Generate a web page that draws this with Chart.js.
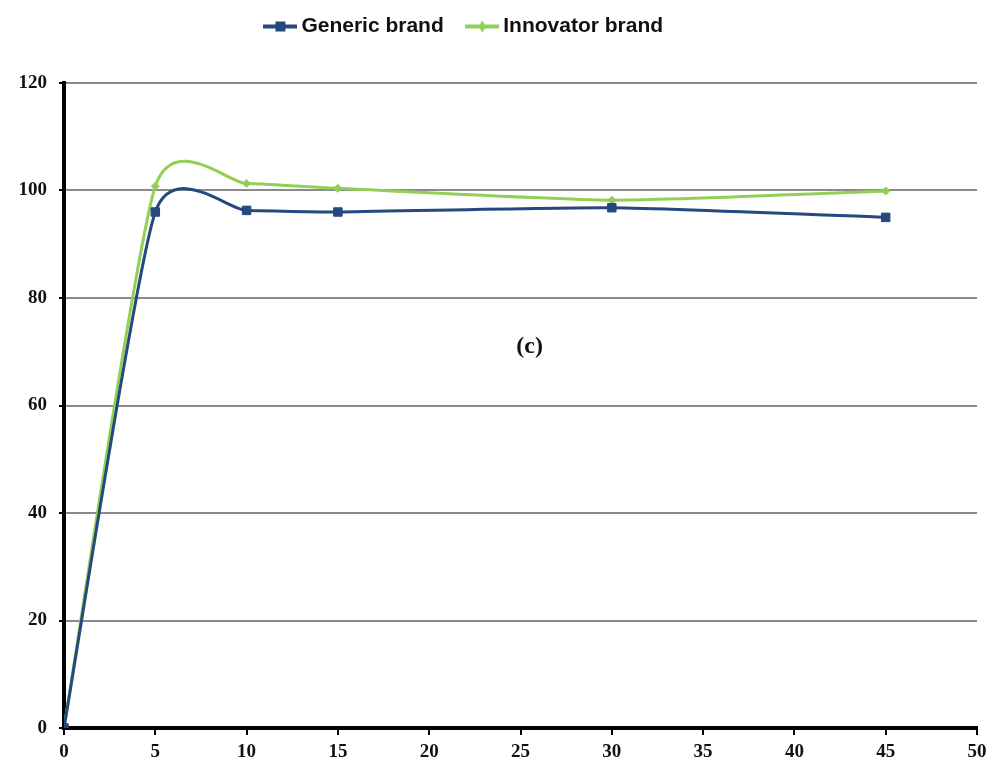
<!DOCTYPE html>
<html>
<head>
<meta charset="utf-8">
<script src="https://cdn.jsdelivr.net/npm/chart.js@4"></script>
<style>
  html, body { margin: 0; padding: 0; background: #fff; }
  #wrap { width: 998px; height: 783px; }
</style>
</head>
<body>
<div id="wrap"><canvas id="chart" width="998" height="783"></canvas></div>
<script>
// data
const timePoints = [0, 5, 10, 15, 30, 45];
const genericBrand = [0, 96, 96.3, 96, 96.8, 95];
const innovatorBrand = [0, 100.8, 101.3, 100.4, 98.2, 99.9];
const seriesNames = ['Generic brand', 'Innovator brand'];
const seriesColors = ['#23497e', '#92cf55'];
const panelLabel = '(c)';

function toXY(values) {
    return timePoints.map((t, i) => ({ x: t, y: values[i] }));
}

const tickFont = { family: '"Liberation Serif", "Times New Roman", serif', size: 19, weight: 'bold' };

// small line+marker images for the legend
function legendIcon(color, square) {
    const c = document.createElement('canvas');
    c.width = 34; c.height = 14;
    const g = c.getContext('2d');
    g.strokeStyle = color;
    g.lineWidth = 4;
    g.beginPath(); g.moveTo(0, 7); g.lineTo(34, 7); g.stroke();
    g.fillStyle = color;
    if (square) {
        g.fillRect(12, 2, 10, 10);
    } else {
        g.beginPath();
        g.moveTo(17, 1); g.lineTo(21, 7); g.lineTo(17, 13); g.lineTo(13, 7);
        g.closePath(); g.fill();
    }
    return c;
}

// legend box fixed to reference height, drawn a little up and left
const legendTweak = {
    id: 'legendTweak',
    beforeInit(chart) {
        const legend = chart.legend;
        const fit = legend.fit;
        legend.fit = function () {
            fit.call(this);
            this.height = 83;
        };
        const draw = legend.draw;
        legend.draw = function () {
            const ctx = this.ctx;
            ctx.save();
            ctx.translate(-22, -12);
            draw.call(this);
            ctx.restore();
        };
    }
};

// Excel-like smoothing: control points from neighbouring points
const excelSmooth = {
    id: 'excelSmooth',
    beforeDatasetsDraw(chart) {
        const k = 0.1;
        chart.getSortedVisibleDatasetMetas().forEach(meta => {
            const pts = meta.data;
            const n = pts.length;
            pts.forEach((p, i) => {
                const prev = pts[Math.max(i - 1, 0)];
                const next = pts[Math.min(i + 1, n - 1)];
                const dx = (next.x - prev.x) * k;
                const dy = (next.y - prev.y) * k;
                p.cp1x = p.x - dx; p.cp1y = p.y - dy;
                p.cp2x = p.x + dx; p.cp2y = p.y + dy;
            });
            if (meta.dataset) {
                meta.dataset._pointsUpdated = true;
                meta.dataset._path = undefined;
            }
        });
    }
};

// the "(c)" label inside the plot
const panelText = {
    id: 'panelText',
    afterDatasetsDraw(chart) {
        const ctx = chart.ctx;
        const x = chart.scales.x.getPixelForValue(25.5);
        const y = chart.scales.y.getPixelForValue(71);
        ctx.save();
        ctx.font = 'bold 24px "Liberation Serif", "Times New Roman", serif';
        ctx.fillStyle = '#111';
        ctx.textAlign = 'center';
        ctx.textBaseline = 'middle';
        ctx.fillText(panelLabel, x, y);
        ctx.restore();
    }
};

const icons = [legendIcon(seriesColors[0], true), legendIcon(seriesColors[1], false)];

new Chart(document.getElementById('chart').getContext('2d'), {
    type: 'line',
    data: {
        datasets: [{
            label: seriesNames[0],
            data: toXY(genericBrand),
            borderColor: seriesColors[0],
            backgroundColor: seriesColors[0],
            borderWidth: 3,
            pointStyle: 'rect',
            pointRadius: 6,
            pointBorderWidth: 1,
            tension: 0.4
        }, {
            label: seriesNames[1],
            data: toXY(innovatorBrand),
            borderColor: seriesColors[1],
            backgroundColor: seriesColors[1],
            borderWidth: 3,
            pointStyle: 'rectRot',
            pointRadius: 4,
            pointBorderWidth: 1,
            tension: 0.4
        }]
    },
    options: {
        responsive: false,
        animation: false,
        layout: { padding: { left: 0, right: 21, top: 0, bottom: 0 } },
        plugins: {
            legend: {
                position: 'top',
                labels: {
                    usePointStyle: true,
                    padding: 28,
                    color: '#111',
                    font: { family: '"Liberation Sans Narrow", "Arial Narrow", Arial, sans-serif', size: 21, weight: 'bold' },
                    generateLabels(chart) {
                        const items = Chart.defaults.plugins.legend.labels.generateLabels(chart);
                        items.forEach((it, i) => { it.pointStyle = icons[i]; });
                        return items;
                    }
                }
            },
            tooltip: { enabled: false }
        },
        scales: {
            x: {
                type: 'linear',
                min: 0,
                max: 50,
                afterFit(scale) { scale.height = 55; },
                ticks: { stepSize: 5, color: '#111', font: tickFont, padding: 6, maxRotation: 0 },
                grid: { drawOnChartArea: false, drawTicks: true, tickLength: 7, color: '#000', lineWidth: 2 },
                border: { color: '#000', width: 4 }
            },
            y: {
                min: 0,
                max: 120,
                afterFit(scale) { scale.width = 64; },
                ticks: { stepSize: 20, color: '#111', font: tickFont, padding: 12 },
                grid: { color: '#8a8a8a', lineWidth: 2, drawTicks: true, tickLength: 5, tickColor: '#000' },
                border: { color: '#000', width: 4 }
            }
        }
    },
    plugins: [legendTweak, excelSmooth, panelText]
});
</script>
</body>
</html>
